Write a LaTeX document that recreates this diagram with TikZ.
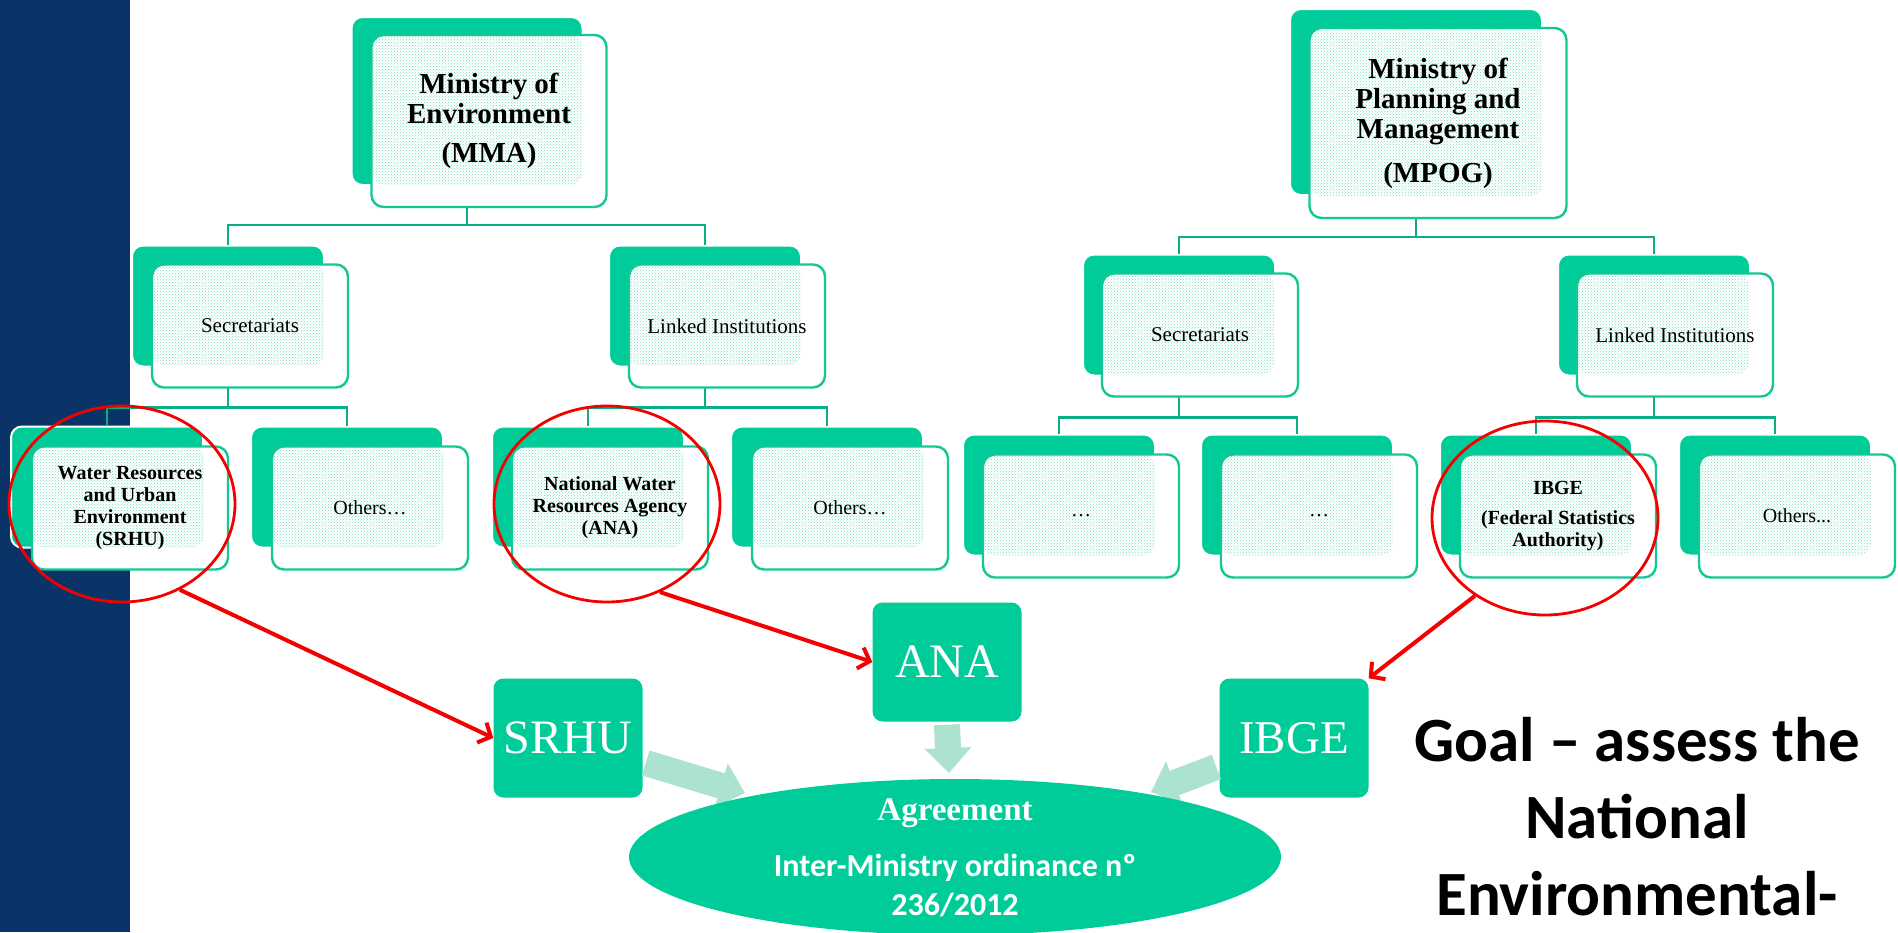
\documentclass[tikz,border=0pt]{standalone}
\usepackage{fontspec}
\setmainfont{Liberation Serif}
\newfontfamily\calibri{Carlito}
\usepackage{tikz}
\usetikzlibrary{arrows.meta, positioning, shapes.geometric, patterns}
\definecolor{bandblue}{RGB}{10,52,104}
\definecolor{boxgreen}{RGB}{0,204,153}
\definecolor{rimgreen}{RGB}{20,200,150}
\definecolor{wiregreen}{RGB}{10,175,135}
\definecolor{dotgreen}{RGB}{120,222,196}
\definecolor{palegreen}{RGB}{172,227,206}
\definecolor{ringred}{RGB}{245,0,0}
\tikzset{
	backbox/.style={
		rectangle, draw=white, fill=boxgreen, line width=2pt,
		rounded corners=11pt, inner sep=0pt,
		minimum width=192pt, minimum height=121pt,
	},
	frame/.style={
		rectangle, draw=rimgreen, fill=white, line width=2.4pt,
		rounded corners=12pt, inner sep=0pt, align=center,
		minimum width=196pt, minimum height=123pt,
		path picture={\fill[pattern=crosshatch dots, pattern color=dotgreen]
			(path picture bounding box.north west) rectangle
			([shift={(-24pt,22pt)}]path picture bounding box.south east);},
	},
	head/.style={font=\fontsize{29}{30}\selectfont\bfseries},
	unit/.style={font=\fontsize{21}{24}\selectfont},
	leaf/.style={font=\fontsize{20}{22}\selectfont},
	strong/.style={font=\fontsize{20}{22}\selectfont\bfseries},
	branch/.style={draw=wiregreen, line width=2.6pt},
	ring/.style={ellipse, draw=ringred, line width=2.8pt, inner sep=0pt},
	pointer/.style={draw=ringred, line width=4pt, -{Straight Barb[length=10pt,width=22pt]}},
	tag/.style={
		rectangle, fill=boxgreen, rounded corners=10pt, text=white,
		minimum width=149pt, minimum height=119pt, inner sep=0pt,
		font=\fontsize{48}{52}\selectfont,
	},
	feed/.style={draw=palegreen, line width=26pt, -{Triangle[length=25pt,width=45pt]}},
}

\begin{document}
\begin{tikzpicture}[x=1pt, y=-1pt]
	
	\useasboundingbox (0,0) rectangle (1898,932);
	\clip (0,0) rectangle (1898,932);
	\fill [white] (0,0) rectangle (1898,932);
	\fill [bandblue] (0,0) rectangle (130,932);
	
	\node [backbox, minimum width=231pt, minimum height=168pt] (mmaB) at (467,101) {};
	\node [backbox] (secB) at (228,306) {};
	\node [backbox] (linB) at (705,306) {};
	\node [backbox] (wrB) at (107,487) {};
	\node [backbox] (oth1B) at (347,487) {};
	\node [backbox] (nwraB) at (588,487) {};
	\node [backbox] (oth2B) at (827,487) {};
	
	\node [backbox, minimum width=252pt, minimum height=186pt] (mpogB) at (1416,102) {};
	\node [backbox] (sec2B) at (1179,315) {};
	\node [backbox] (lin2B) at (1654,315) {};
	\node [backbox] (dot1B) at (1059,495) {};
	\node [backbox] (dot2B) at (1297,495) {};
	\node [backbox] (ibgeB) at (1536,495) {};
	\node [backbox] (oth3B) at (1775,495) {};
	
	\draw [branch] (mmaB.south) -- ++(0,39) -| (secB.north);
	\draw [branch] (mmaB.south) -- ++(0,39) -| (linB.north);
	\draw [branch] (secB.south) -- ++(0,40) -| (wrB.north);
	\draw [branch] (secB.south) -- ++(0,40) -| (oth1B.north);
	\draw [branch] (linB.south) -- ++(0,40) -| (nwraB.north);
	\draw [branch] (linB.south) -- ++(0,40) -| (oth2B.north);
	
	\draw [branch] (mpogB.south) -- ++(0,41) -| (sec2B.north);
	\draw [branch] (mpogB.south) -- ++(0,41) -| (lin2B.north);
	\draw [branch] (sec2B.south) -- ++(0,41) -| (dot1B.north);
	\draw [branch] (sec2B.south) -- ++(0,41) -| (dot2B.north);
	\draw [branch] (lin2B.south) -- ++(0,41) -| (ibgeB.north);
	\draw [branch] (lin2B.south) -- ++(0,41) -| (oth3B.north);
	
	\node [frame, head, minimum width=235pt, minimum height=172pt] (mma) at (489,121) {Ministry of\\Environment\\[9pt](MMA)};
	\node [frame, unit] (sec) at (250,326) {Secretariats};
	\node [frame, unit] (lin) at (727,326) {Linked Institutions};
	\node [frame, strong] (wr) at (130,508) {Water Resources\\and Urban\\Environment\\(SRHU)};
	\node [frame, leaf] (oth1) at (370,508) {Others…};
	\node [frame, strong] (nwra) at (610,508) {National Water\\Resources Agency\\(ANA)};
	\node [frame, leaf] (oth2) at (850,508) {Others…};
	
	\node [frame, head, minimum width=257pt, minimum height=190pt] (mpog) at (1438,123) {Ministry of\\Planning and\\Management\\[14pt](MPOG)};
	\node [frame, unit] (sec2) at (1200,335) {Secretariats};
	\node [frame, unit] (lin2) at (1675,335) {Linked Institutions};
	\node [frame, leaf] (dot1) at (1081,516) {…};
	\node [frame, leaf] (dot2) at (1319,516) {…};
	\node [frame, strong] (ibgeOrg) at (1558,516) {IBGE\\[8pt](Federal Statistics\\Authority)};
	\node [frame, leaf] (oth3) at (1797,516) {Others...};
	
	\node [ring, minimum width=226pt, minimum height=196pt] (wrRing) at (122,504) {};
	\node [ring, minimum width=226pt, minimum height=196pt] (nwraRing) at (607,504) {};
	\node [ring, minimum width=226pt, minimum height=194pt] (ibgeRing) at (1545,518) {};
	
	\node [tag] (srhu) at (568,738) {SRHU};
	\node [tag] (ana) at (947,662) {ANA};
	\node [tag, font=\fontsize{47}{50}\selectfont] (ibge) at (1294,738) {IBGE};
	
	\coordinate (srhuTip) at (745,793);
	\coordinate (anaTip) at (949,773);
	\coordinate (ibgeTip) at (1151,792);
	\draw [feed] ([shift={(3pt,-25pt)}]srhu.east) -- (srhuTip);
	\draw [feed] ([yshift=-3pt]ana.south) -- (anaTip);
	\draw [feed] ([shift={(-3pt,-29pt)}]ibge.west) -- (ibgeTip);
	
	\node [ellipse, fill=boxgreen, inner sep=0pt, minimum width=652pt, minimum height=156pt] (agree) at (955,857) {};
	\node [anchor=base, text=white, font=\fontsize{33}{36}\selectfont\bfseries] (agreeHead) at (955,820) {Agreement};
	\node [anchor=base, text=white, font=\calibri\bfseries\fontsize{32}{39}\selectfont] (ordinance) at (955,876) {Inter-Ministry ordinance nº};
	\node [anchor=base, text=white, font=\calibri\bfseries\fontsize{32}{39}\selectfont] (ordYear) at (955,915) {236/2012};
	
	\node [anchor=base, align=center, font=\calibri\bfseries\fontsize{63}{77}\selectfont] (goal) at (1637,915) {Goal – assess the\\National\\Environmental-};
	
	\draw [pointer] (wrRing.-56) -- (srhu.west);
	\draw [pointer] (nwraRing.-59) -- (ana.west);
	\draw [pointer] (ibgeRing.228) -- (ibge.north east);
	
\end{tikzpicture}
\end{document}
